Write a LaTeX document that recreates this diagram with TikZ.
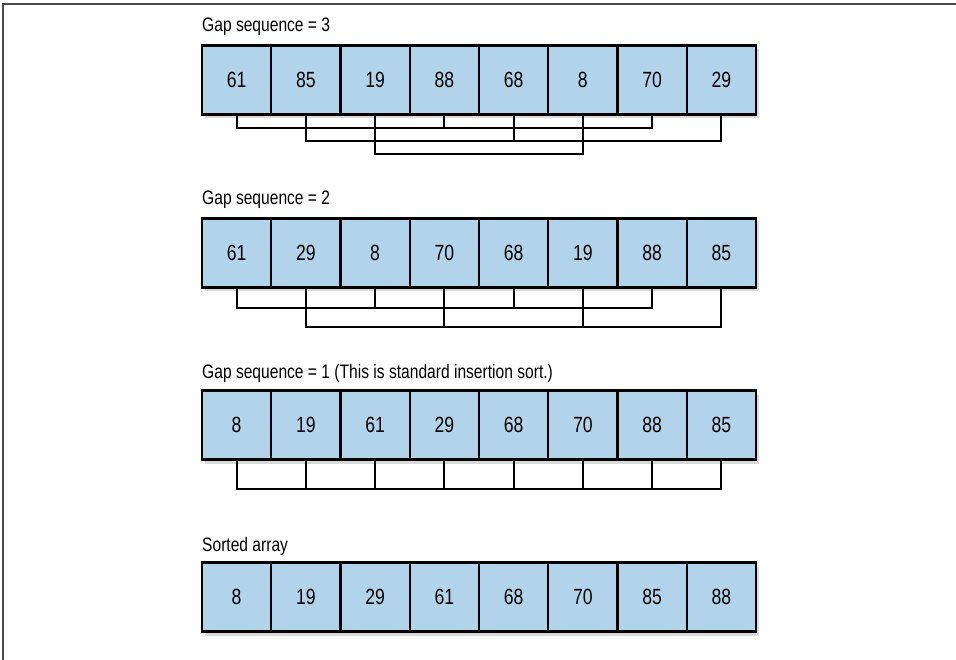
\documentclass[tikz,border=0pt]{standalone}
\usepackage{fontspec}
\setmainfont{Liberation Sans}[FakeStretch=0.8]
\usetikzlibrary{shadows}
\definecolor{cellblue}{HTML}{B2D4EA}
\definecolor{framegray}{HTML}{4A4A4A}

\tikzset{
  cell/.style={draw, line width=2.2pt, fill=cellblue, inner sep=0pt,
    minimum width=69.25pt, minimum height=69pt,
    font=\fontsize{22}{22}\selectfont,
    drop shadow={shadow xshift=3pt, shadow yshift=-4pt, opacity=0.3}},
  title/.style={anchor=base west, inner sep=0pt, font=\fontsize{19.5}{19.5}\selectfont},
  link/.style={line width=1.9pt}
}

\begin{document}
\begin{tikzpicture}[x=1pt, y=-1pt]
  \useasboundingbox (0,0) rectangle (956,660);
  \draw[framegray, line width=1.8pt] (3,660) -- (3,4) -- (956,4);

  % gap 3
  \node[title] (t1) at (202,32) {Gap sequence = 3};
  \foreach \v [count=\k from 0] in {61,85,19,88,68,8,70,29}
    \node[cell] (a\k) at (236.6+69.25*\k,80) {\v};
  \foreach \i/\j/\l in {0/6/128, 1/7/141, 2/5/154}
    \draw[link] (a\i.south) |- (a\j.south |- 0,\l) -- (a\j.south);
  \draw[link] (a3.south) -- (a3.south |- 0,128);
  \draw[link] (a4.south) -- (a4.south |- 0,141);

  % gap 2
  \node[title] (t2) at (202,205) {Gap sequence = 2};
  \foreach \v [count=\k from 0] in {61,29,8,70,68,19,88,85}
    \node[cell] (b\k) at (236.6+69.25*\k,253) {\v};
  \foreach \i/\j/\l in {0/6/308, 1/7/327}
    \draw[link] (b\i.south) |- (b\j.south |- 0,\l) -- (b\j.south);
  \foreach \m/\l in {2/308, 4/308, 3/327, 5/327}
    \draw[link] (b\m.south) -- (b\m.south |- 0,\l);

  % gap 1
  \node[title] (t3) at (202,378) {Gap sequence = 1 (This is standard insertion sort.)};
  \foreach \v [count=\k from 0] in {8,19,61,29,68,70,88,85}
    \node[cell] (c\k) at (236.6+69.25*\k,425) {\v};
  \draw[link] (c0.south) |- (c7.south |- 0,489) -- (c7.south);
  \foreach \m in {1,...,6}
    \draw[link] (c\m.south) -- (c\m.south |- 0,489);

  % sorted
  \node[title] (t4) at (202,551) {Sorted array};
  \foreach \v [count=\k from 0] in {8,19,29,61,68,70,85,88}
    \node[cell] (d\k) at (236.6+69.25*\k,597) {\v};
\end{tikzpicture}
\end{document}
